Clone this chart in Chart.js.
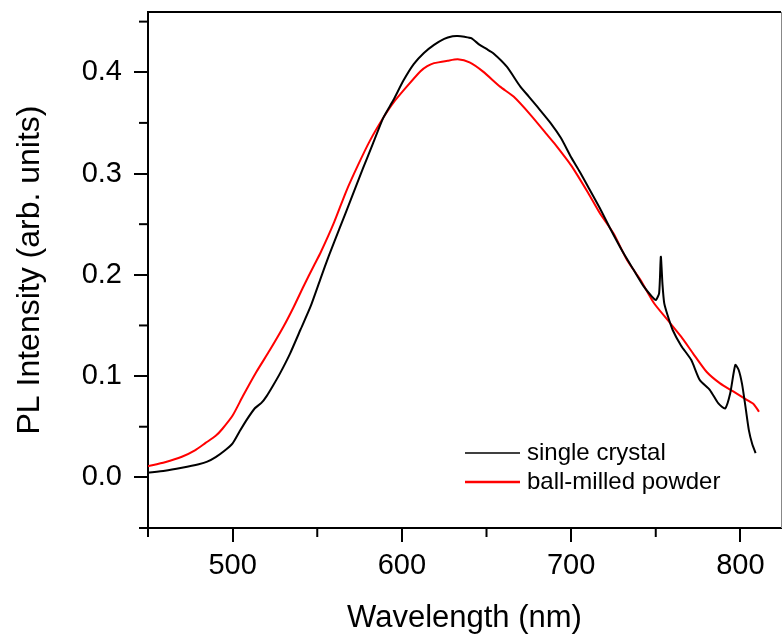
<!DOCTYPE html>
<html>
<head>
<meta charset="utf-8">
<script src="https://cdn.jsdelivr.net/npm/chart.js@4"></script>
<style>
  html, body { margin: 0; padding: 0; background: #fff; }
  #wrap { width: 782px; height: 638px; }
</style>
</head>
<body>
<div id="wrap"><canvas id="pl-chart"></canvas></div>
<script>
// single crystal (black)
const scWavelength = [450, 460, 470, 480, 485, 490, 495, 500, 504, 508, 513, 517, 520, 524, 528, 534, 540, 546, 552, 557,
    563, 570, 577, 583, 589, 595, 601, 607, 613, 619, 625, 630, 633, 637, 641, 646, 650, 654, 662, 670,
    675, 680, 688, 694, 700, 705, 710, 717, 723, 731, 737, 743, 748, 750, 752, 753, 754, 755, 757, 760,
    765, 771, 776, 782, 787, 791, 794, 797, 799, 801, 803, 805, 807, 809];
const scIntensity = [0.0045, 0.0065, 0.0095, 0.013, 0.0155, 0.020, 0.026, 0.0336, 0.045, 0.056, 0.068, 0.0735, 0.080, 0.091, 0.1027, 0.1225, 0.1455, 0.1685, 0.1965, 0.2195,
    0.245, 0.275, 0.305, 0.330, 0.355, 0.3726, 0.392, 0.408, 0.419, 0.427, 0.433, 0.4355, 0.4358, 0.435, 0.4336, 0.427, 0.423, 0.4188, 0.4055, 0.3858,
    0.376, 0.366, 0.3496, 0.335, 0.316, 0.302, 0.287, 0.2657, 0.246, 0.2212, 0.2047, 0.1883, 0.178, 0.175, 0.182, 0.2179, 0.190, 0.172, 0.160, 0.1455,
    0.130, 0.1158, 0.0961, 0.0862, 0.073, 0.068, 0.083, 0.111, 0.106, 0.092, 0.0698, 0.0467, 0.033, 0.024];

// ball-milled powder (red)
const bmWavelength = [450, 460, 470, 478, 484, 490, 494, 500, 506, 514, 522, 530, 536, 542, 548, 552, 560, 567, 574, 581,
    589, 595, 603, 611, 615, 619, 627, 633, 640, 648, 658, 666, 676, 686, 690, 700, 710, 717, 725, 733,
    741, 749, 757, 765, 772, 780, 788, 796, 804, 808, 811];
const bmIntensity = [0.011, 0.015, 0.0204, 0.027, 0.034, 0.041, 0.048, 0.061, 0.080, 0.104, 0.1257, 0.1487, 0.168, 0.189, 0.209, 0.222, 0.252, 0.282, 0.308, 0.332,
    0.355, 0.370, 0.386, 0.401, 0.406, 0.409, 0.4114, 0.4128, 0.4097, 0.4006, 0.3858, 0.376, 0.358, 0.338, 0.330, 0.308, 0.281, 0.2607, 0.241, 0.2146,
    0.1949, 0.1719, 0.1554, 0.1389, 0.1225, 0.1043, 0.0928, 0.0846, 0.0763, 0.072, 0.0648];

const xMajorTicks = [500, 600, 700, 800];
const xMinorTicks = [450, 550, 650, 750];
const yMajorTicks = [0.0, 0.1, 0.2, 0.3, 0.4];
const yMinorTicks = [-0.05, 0.05, 0.15, 0.25, 0.35, 0.45];

const FONT = "'Liberation Sans', Arial, sans-serif";

const toPoints = (xs, ys) => xs.map((x, i) => ({ x: x, y: ys[i] }));

// top/right frame, minor ticks and the in-plot legend
const framePlugin = {
    id: 'frame',
    afterDraw(chart) {
        const { ctx, chartArea: a, scales } = chart;
        ctx.save();
        ctx.strokeStyle = '#000';
        ctx.lineWidth = 2;
        ctx.beginPath();
        ctx.moveTo(a.left - 1, a.top);
        ctx.lineTo(a.right, a.top);
        ctx.stroke();

        ctx.strokeStyle = '#888';
        ctx.lineWidth = 1;
        ctx.beginPath();
        ctx.moveTo(a.right + 0.5, a.top);
        ctx.lineTo(a.right + 0.5, a.bottom);
        ctx.stroke();

        ctx.strokeStyle = '#000';
        ctx.lineWidth = 2;
        xMinorTicks.forEach(v => {
            const px = scales.x.getPixelForValue(v);
            ctx.beginPath();
            ctx.moveTo(px, a.bottom);
            ctx.lineTo(px, a.bottom + 9);
            ctx.stroke();
        });
        yMinorTicks.forEach(v => {
            const py = scales.y.getPixelForValue(v);
            ctx.beginPath();
            ctx.moveTo(a.left - 9, py);
            ctx.lineTo(a.left, py);
            ctx.stroke();
        });

        // legend
        ctx.font = '24px ' + FONT;
        ctx.textBaseline = 'middle';
        ctx.fillStyle = '#000';
        chart.data.datasets.forEach((ds, i) => {
            const ly = a.bottom - 75 + i * 29;
            ctx.strokeStyle = ds.borderColor;
            ctx.lineWidth = i === 0 ? 1.5 : 2.5;
            ctx.beginPath();
            ctx.moveTo(a.left + 317, ly);
            ctx.lineTo(a.left + 372, ly);
            ctx.stroke();
            ctx.fillText(ds.label, a.left + 379, ly);
        });
        ctx.restore();
    }
};

new Chart(document.getElementById('pl-chart'), {
    type: 'line',
    data: {
        datasets: [{
            label: 'single crystal',
            data: toPoints(scWavelength, scIntensity),
            borderColor: '#000000',
            borderWidth: 2,
            pointRadius: 0,
            tension: 0.2
        }, {
            label: 'ball-milled powder',
            data: toPoints(bmWavelength, bmIntensity),
            borderColor: '#ff0000',
            borderWidth: 2,
            pointRadius: 0,
            tension: 0.2
        }]
    },
    options: {
        responsive: true,
        maintainAspectRatio: false,
        animation: false,
        layout: { padding: { top: 12, right: 1, left: 0, bottom: 0 } },
        plugins: {
            legend: { display: false },
            tooltip: { enabled: false }
        },
        scales: {
            x: {
                type: 'linear',
                min: 450,
                max: 824,
                afterBuildTicks: scale => { scale.ticks = xMajorTicks.map(v => ({ value: v })); },
                afterFit: scale => {
                    scale.height = 110;
                    scale.paddingLeft = 0;
                    scale.paddingRight = 0;
                },
                grid: { drawOnChartArea: false, drawTicks: true, tickLength: 14, color: '#000', lineWidth: 2 },
                border: { display: true, color: '#000', width: 2 },
                ticks: {
                    color: '#000',
                    padding: 7,
                    maxRotation: 0,
                    font: { family: FONT, size: 29 },
                    callback: v => String(v)
                },
                title: {
                    display: true,
                    text: 'Wavelength (nm)',
                    color: '#000',
                    padding: { top: 0, bottom: 1 },
                    font: { family: FONT, size: 31 }
                }
            },
            y: {
                min: -0.05,
                max: 0.4595,
                afterBuildTicks: scale => { scale.ticks = yMajorTicks.map(v => ({ value: v })); },
                afterFit: scale => {
                    scale.width = 148;
                    scale.paddingTop = 0;
                    scale.paddingBottom = 0;
                },
                grid: { drawOnChartArea: false, drawTicks: true, tickLength: 14, color: '#000', lineWidth: 2 },
                border: { display: true, color: '#000', width: 2 },
                ticks: {
                    color: '#000',
                    padding: 12,
                    font: { family: FONT, size: 29 },
                    callback: v => Number(v).toFixed(1)
                },
                title: {
                    display: true,
                    text: 'PL Intensity (arb. units)',
                    color: '#000',
                    padding: { top: 11, bottom: 0 },
                    font: { family: FONT, size: 32 }
                }
            }
        }
    },
    plugins: [framePlugin]
});
</script>
</body>
</html>
